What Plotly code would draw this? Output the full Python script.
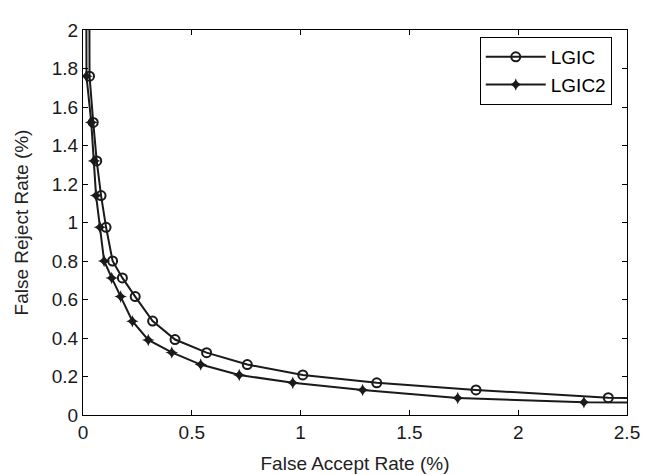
import plotly.graph_objects as go

# LGIC (open circles)
lgic_far = [0.028, 0.030, 0.047, 0.063, 0.083, 0.106, 0.136, 0.181, 0.240, 0.320, 0.423, 0.568, 0.755, 1.010, 1.350, 1.806, 2.414, 3.200]
lgic_frr = [3.000, 1.760, 1.520, 1.320, 1.140, 0.975, 0.800, 0.712, 0.615, 0.488, 0.392, 0.324, 0.262, 0.208, 0.167, 0.130, 0.090, 0.075]

# LGIC2 (filled star markers)
lgic2_far = [0.014, 0.016, 0.038, 0.051, 0.060, 0.078, 0.097, 0.132, 0.173, 0.227, 0.300, 0.408, 0.541, 0.718, 0.964, 1.285, 1.722, 2.302, 3.100]
lgic2_frr = [3.000, 1.760, 1.520, 1.320, 1.140, 0.975, 0.800, 0.712, 0.615, 0.487, 0.390, 0.325, 0.262, 0.208, 0.167, 0.130, 0.088, 0.066, 0.060]

x_ticks = [0, 0.5, 1, 1.5, 2, 2.5]
x_tick_text = ["0", "0.5", "1", "1.5", "2", "2.5"]
y_ticks = [0, 0.2, 0.4, 0.6, 0.8, 1, 1.2, 1.4, 1.6, 1.8, 2]
y_tick_text = ["0", "0.2", "0.4", "0.6", "0.8", "1", "1.2", "1.4", "1.6", "1.8", "2"]

FONT = "Liberation Sans, Arial, sans-serif"

fig = go.Figure()
fig.add_trace(go.Scatter(
    x=lgic_far, y=lgic_frr, mode="lines+markers", name="LGIC",
    line=dict(color="#1a1a1a", width=2),
    marker=dict(symbol="circle-open", size=9, color="#1a1a1a", line=dict(width=2)),
))
fig.add_trace(go.Scatter(
    x=lgic2_far, y=lgic2_frr, mode="lines+markers", name="LGIC2",
    line=dict(color="#1a1a1a", width=2),
    marker=dict(symbol="star-diamond", size=9, color="#1a1a1a"),
))

axis_common = dict(
    showline=True, linecolor="black", linewidth=1, mirror="ticks",
    ticks="inside", ticklen=5, tickcolor="black", showgrid=False, zeroline=False,
    tickfont=dict(family=FONT, size=19, color="#1a1a1a"),
)
fig.update_xaxes(range=[0, 2.5], tickvals=x_ticks, ticktext=x_tick_text,
                 title=dict(text="False Accept Rate (%)", standoff=14,
                            font=dict(family=FONT, size=19, color="#222")),
                 **axis_common)
fig.update_yaxes(range=[0, 2], tickvals=y_ticks, ticktext=y_tick_text,
                 title=dict(text="False Reject Rate (%)", standoff=18,
                            font=dict(family=FONT, size=19, color="#222")),
                 **axis_common)

fig.update_layout(
    width=653, height=475,
    margin=dict(l=75, r=34, t=12, b=68),
    plot_bgcolor="white", paper_bgcolor="white",
    legend=dict(x=0.972, y=0.982, xanchor="right", yanchor="top",
                bordercolor="black", borderwidth=1, bgcolor="white",
                font=dict(family=FONT, size=19, color="black"),
                tracegroupgap=0, itemwidth=60),
    showlegend=True,
)

fig.write_html("out.html")
